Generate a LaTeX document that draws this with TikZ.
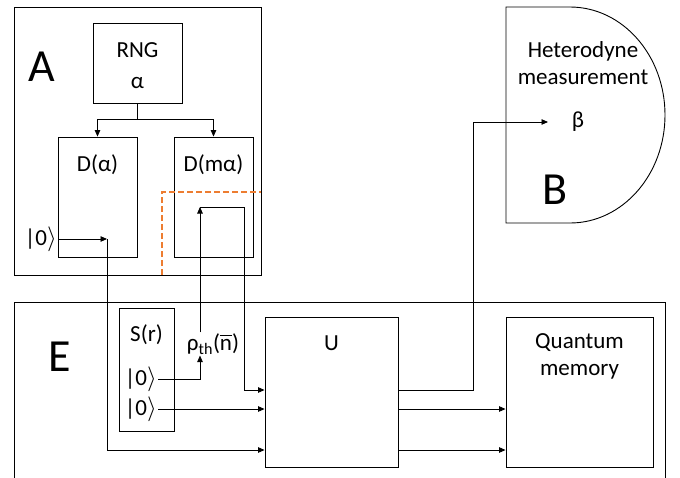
\documentclass[tikz,border=0pt]{standalone}
\usepackage{amsmath}
\usepackage{fontspec}
\setmainfont{Carlito}
\usepackage{tikz}
\usetikzlibrary{arrows.meta}

\begin{document}
\begin{tikzpicture}[x=1pt,y=-1pt,
    caja/.style={draw, line width=0.9pt, inner sep=0pt},
    linea/.style={line width=0.9pt},
    flecha/.style={line width=0.9pt, -{Triangle[length=6.5pt,width=5.5pt]}},
    texto/.style={font=\fontsize{23}{27}\selectfont, inner sep=1pt},
    letra/.style={font=\fontsize{46}{50}\selectfont, inner sep=0pt}]
    \useasboundingbox (0,0) rectangle (680,477);
    \definecolor{naranja}{RGB}{237,125,49}

    % Bloque A
    \node[caja, minimum width=247pt, minimum height=268pt] (bloqueA) at (137.5,141) {};
    \node[letra] (letraA) at (42,67) {A};
    \node[caja, minimum width=89pt, minimum height=80pt] (rng) at (137.5,63) {};
    \node[texto] (rngtxt) at (137.5,50) {RNG};
    \node[texto] (alfa) at (137.5,83) {α};
    \node[caja, minimum width=79pt, minimum height=120pt] (dalfa) at (97.5,197) {};
    \node[texto] (dalfatxt) at (97.5,165) {D(α)};
    \node[caja, minimum width=79pt, minimum height=120pt] (dmalfa) at (213.5,197) {};
    \node[texto] (dmalfatxt) at (213.5,165) {D(mα)};
    \node[texto, anchor=east] (ket1) at (58,239) {|0$\rangle$};
    \coordinate (rama) at (137.5,119);
    \coordinate (c1) at (107,239);
    \draw[linea] (rng.south) -- (rama);
    \draw[flecha] (rama) -| (dalfa.north);
    \draw[flecha] (rama) -| (dmalfa.north);
    \draw[flecha] (ket1.east) -- (c1);

    % Linea naranja
    \draw[naranja, line width=1.2pt, dash pattern=on 6pt off 3pt] (162,275) -- (162,192) -- (bloqueA.east |- 0,192);

    % Bloque B
    \draw[linea] (506,7) -- (570,7) arc[start angle=-90, end angle=90, x radius=95, y radius=108] -- (506,223) -- cycle;
    \node[texto, align=center] (hetero) at (583,63) {Heterodyne\\measurement};
    \node[texto] (beta) at (578,122) {β};
    \node[letra] (letraB) at (555,190) {B};
    \coordinate (bin) at (548,122);

    % Bloque E
    \node[caja, minimum width=651pt, minimum height=188pt] (bloqueE) at (339.5,396) {};
    \node[letra] (letraE) at (60,357) {E};
    \node[caja, minimum width=55pt, minimum height=123pt] (sr) at (146.5,369.5) {};
    \node[texto] (srtxt) at (146.5,335) {S(r)};
    \node[texto, anchor=east] (ket2) at (158,379) {|0$\rangle$};
    \node[texto, anchor=east] (ket3) at (158,409) {|0$\rangle$};
    \node[texto] (rho) at (213,344) {ρ\textsubscript{th}($\overline{\mbox{n}}$)};
    \node[caja, minimum width=133pt, minimum height=150pt] (u) at (331.5,392) {};
    \node[texto] (utxt) at (331.5,343) {U};
    \node[caja, minimum width=147pt, minimum height=150pt] (qm) at (579.5,392) {};
    \node[texto, align=center] (qmtxt) at (579.5,356) {Quantum\\memory};

    % Conexiones
    \coordinate (rt) at (200,207);
    \coordinate (esq) at (244,207);
    \coordinate (fila1) at (0,390);
    \coordinate (fila3) at (0,450);
    \coordinate (subida) at (473,122);
    \draw[flecha] (ket2.east) -| (rho.south -| rt);
    \draw[flecha] (rho.north -| rt) -- (rt);
    \draw[flecha] (rt) -- (esq) |- (u.west |- fila1);
    \draw[flecha] (ket3.east) -- (u.west |- ket3.east);
    \draw[flecha] (c1) |- (u.west |- fila3);
    \draw[flecha] (u.east |- fila1) -| (subida) -- (bin);
    \draw[flecha] (u.east |- ket3.east) -- (qm.west |- ket3.east);
    \draw[flecha] (u.east |- fila3) -- (qm.west |- fila3);
\end{tikzpicture}
\end{document}
